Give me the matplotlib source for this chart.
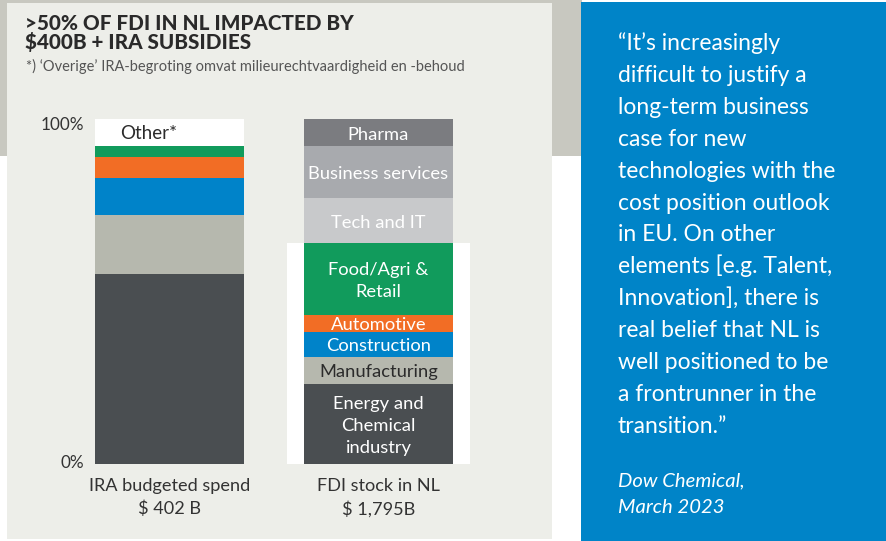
import matplotlib
matplotlib.use("Agg")
import matplotlib.pyplot as plt
from matplotlib.patches import Rectangle

# ---------------- data ----------------
categories = ["IRA budgeted spend\n$ 402 B", "FDI stock in NL\n$ 1,795B"]

ira_sectors = ["Energy and Chemical industry", "Manufacturing", "Construction",
               "Automotive", "Food/Agri & Retail", "Other*"]
ira_values = [55.1, 17.1, 10.7, 6.1, 3.2, 7.8]

fdi_sectors = ["Energy and\nChemical\nindustry", "Manufacturing", "Construction",
               "Automotive", "Food/Agri &\nRetail", "Tech and IT",
               "Business services", "Pharma"]
fdi_values = [23.2, 7.8, 7.2, 4.9, 20.9, 13.0, 15.1, 7.8]

y_tick_labels = ["0%", "100%"]

title_lines = [">50% OF FDI IN NL IMPACTED BY", "$400B + IRA SUBSIDIES"]
subtitle = "*) \u2018Overige\u2019 IRA-begroting omvat milieurechtvaardigheid en -behoud"

quote_lines = ["\u201cIt\u2019s increasingly", "difficult to justify a", "long-term business",
               "case for new", "technologies with the", "cost position outlook",
               "in EU. On other", "elements [e.g. Talent,", "Innovation], there is",
               "real belief that NL is", "well positioned to be", "a frontrunner in the",
               "transition.\u201d"]
source_lines = ["Dow Chemical,", "March 2023"]

# ---------------- styles ----------------
DARK = "#4a4e51"
LGRAY = "#b6b8ae"
BLUE = "#0083c9"
ORANGE = "#f26d25"
GREEN = "#119b5c"
ira_colors = [DARK, LGRAY, BLUE, ORANGE, GREEN, "#ffffff"]
fdi_colors = [DARK, LGRAY, BLUE, ORANGE, GREEN, "#c8c9cb", "#a8aaae", "#7b7c80"]
fdi_text_colors = ["white", "#2b2b2b", "white", "white", "white", "white", "white", "white"]

FONT = ["Lato", "DejaVu Sans"]
plt.rcParams["font.family"] = FONT

W, H = 886, 541
fig = plt.figure(figsize=(W / 100, H / 100), dpi=100)
fig.patch.set_facecolor("white")


def fx(px):
    return px / W


def fy(py):
    return 1 - py / H


def frect(x0, y0, x1, y1, color, z=0):
    fig.patches.append(Rectangle((fx(x0), fy(y1)), fx(x1) - fx(x0), fy(y0) - fy(y1),
                                 transform=fig.transFigure, facecolor=color,
                                 edgecolor="none", zorder=z))


# background pieces
frect(0, 0, 582, 156, "#c8c8c0", z=0)
frect(7, 3, 552, 539, "#edeee9", z=1)
frect(581, 2, W, H, "#0084c8", z=1)

# ---------------- bars ----------------
ax = fig.add_axes([fx(65), fy(464), fx(418), 345 / H])
ax.set_xlim(-0.5, 1.5)
ax.set_ylim(0, 100)
ax.axis("off")
ax.set_zorder(2)
ax.patch.set_alpha(0)

bw = 0.713
# white backdrop behind the impacted FDI sectors
ax.add_patch(Rectangle((1 - 0.436, 0), 0.872, sum(fdi_values[:5]),
                       facecolor="white", edgecolor="none", zorder=1))

bottom = 0
for v, c in zip(ira_values, ira_colors):
    ax.bar(0, v, bw, bottom=bottom, color=c, zorder=2, linewidth=0)
    bottom += v
ax.text(-0.098, 100 - ira_values[-1] / 2 - 0.3, ira_sectors[-1], ha="center", va="center",
        fontsize=13.5, color="#2b2b2b", zorder=3)

bottom = 0
for v, c, name, tc in zip(fdi_values, fdi_colors, fdi_sectors, fdi_text_colors):
    ax.bar(1, v, bw, bottom=bottom, color=c, zorder=2, linewidth=0)
    ax.text(1, bottom + v / 2 - 0.5, name, ha="center", va="center", fontsize=13.2,
            color=tc, linespacing=1.45, zorder=3)
    bottom += v

# y labels
ax.text(-0.41, 0.4, y_tick_labels[0], ha="right", va="center", fontsize=12.3, color="#333333")
ax.text(-0.41, 100.6, y_tick_labels[1], ha="right", va="top", fontsize=12.3, color="#333333")

# category labels
for i, lab in enumerate(categories):
    ax.text(i, -4.1, lab, ha="center", va="top", fontsize=13.1, color="#333333",
            linespacing=1.5)

# ---------------- titles ----------------
for i, line in enumerate(title_lines):
    fig.text(fx(25), fy(30.5 + i * 18.5), line, ha="left", va="baseline", fontsize=14.9,
             fontweight="black", color="#2a2a2a", zorder=3)
fig.text(fx(26), fy(71), subtitle, ha="left", va="baseline", fontsize=10.5,
         color="#555555", zorder=3)

# ---------------- quote ----------------
for i, line in enumerate(quote_lines):
    fig.text(fx(618), fy(50 + i * 31.9), line, ha="left", va="baseline",
             fontsize=16.5, color="white", zorder=3)
for i, line in enumerate(source_lines):
    fig.text(fx(618), fy(486 + i * 27), line, ha="left", va="baseline",
             fontsize=14.6, color="white", style="italic", zorder=3)

fig.savefig("out.png", dpi=100, facecolor=fig.get_facecolor())
